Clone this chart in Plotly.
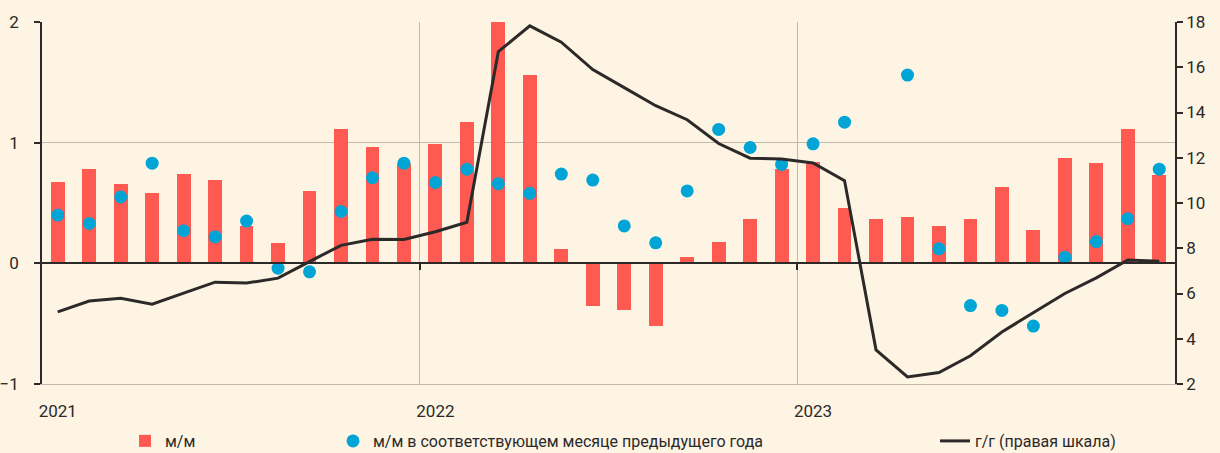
import plotly.graph_objects as go

months = [f"{y}-{m:02d}" for y in (2021, 2022, 2023) for m in range(1, 13)]

mom = [0.67, 0.78, 0.66, 0.58, 0.74, 0.69, 0.31, 0.17, 0.60, 1.11, 0.96, 0.82,
       0.99, 1.17, 7.61, 1.56, 0.12, -0.35, -0.39, -0.52, 0.05, 0.18, 0.37, 0.78,
       0.84, 0.46, 0.37, 0.38, 0.31, 0.37, 0.63, 0.28, 0.87, 0.83, 1.11, 0.73]

mom_prev_year = [0.40, 0.33, 0.55, 0.83, 0.27, 0.22, 0.35, -0.04, -0.07, 0.43, 0.71, 0.83,
                 0.67, 0.78, 0.66, 0.58, 0.74, 0.69, 0.31, 0.17, 0.60, 1.11, 0.96, 0.82,
                 0.99, 1.17, 7.61, 1.56, 0.12, -0.35, -0.39, -0.52, 0.05, 0.18, 0.37, 0.78]

yoy = [5.19, 5.67, 5.79, 5.53, 6.02, 6.50, 6.46, 6.68, 7.41, 8.13, 8.40, 8.39,
       8.73, 9.15, 16.69, 17.83, 17.11, 15.90, 15.10, 14.30, 13.68, 12.63, 11.98, 11.94,
       11.77, 10.99, 3.51, 2.31, 2.51, 3.25, 4.30, 5.15, 6.00, 6.69, 7.48, 7.42]

year_labels = ["2021", "2022", "2023"]
legend_names = ["м/м", "м/м в соответствующем месяце предыдущего года", "г/г (правая шкала)"]

pos = list(range(len(months)))
year_pos = [pos[months.index(f"{y}-01")] for y in year_labels]
year_bounds = [p - 0.5 for p in year_pos[1:]]

BG = "#FDF4E4"
RED = "#FF5A52"
BLUE = "#00A5D5"
DARK = "#2B2A28"
GRID = "#C2BAAE"
FONT = "Roboto, Open Sans, sans-serif"

W, H = 1220, 453

fig = go.Figure()
fig.add_trace(go.Bar(x=pos, y=mom, name=legend_names[0], marker=dict(color=RED, line=dict(width=0)),
                     width=0.44, legend="legend", hoverinfo="skip"))
fig.add_trace(go.Scatter(x=pos, y=mom_prev_year, name=legend_names[1], mode="markers",
                         marker=dict(color=BLUE, size=13), legend="legend2", cliponaxis=True))
fig.add_trace(go.Scatter(x=pos, y=yoy, name=legend_names[2], mode="lines",
                         line=dict(color=DARK, width=3), xaxis="x2", yaxis="y2", legend="legend3"))

xr = [-0.5, len(months) - 0.5]
leg_common = dict(orientation="h", xref="container", yref="container", y=1 - 441 / H,
                  yanchor="middle", xanchor="left", bgcolor="rgba(0,0,0,0)",
                  font=dict(size=16, family=FONT, color=DARK))
fig.update_layout(
    width=W, height=H,
    margin=dict(l=42, r=45, t=22, b=69, autoexpand=False),
    paper_bgcolor=BG, plot_bgcolor=BG,
    font=dict(family=FONT, size=17, color=DARK),
    bargap=0,
    xaxis=dict(range=xr, tickmode="array", tickvals=year_pos, ticktext=year_labels,
               showgrid=False, zeroline=False, showline=True, linecolor=GRID, linewidth=1,
               ticks="", ticklabelstandoff=12, automargin=False,
               minor=dict(tickmode="array", tickvals=year_bounds, showgrid=True,
                          gridcolor=GRID, gridwidth=1, ticks="")),
    xaxis2=dict(range=xr, overlaying="x", anchor="free", position=1/3, side="bottom",
                tickmode="array", tickvals=year_bounds, showticklabels=False,
                ticks="outside", ticklen=6, tickcolor=DARK, tickwidth=1.5, automargin=False,
                showline=True, linecolor=DARK, linewidth=1.5, showgrid=False, zeroline=False),
    yaxis=dict(range=[-1, 2], tickmode="array", tickvals=[-1, 0, 1, 2],
               showgrid=True, gridcolor=GRID, gridwidth=1, zeroline=False,
               showline=True, linecolor=DARK, linewidth=1.5, automargin=False,
               ticks="outside", ticklen=6, tickcolor=DARK, tickwidth=1.5, ticklabelstandoff=12),
    yaxis2=dict(range=[2, 18], tickmode="array", tickvals=list(range(2, 19, 2)),
                overlaying="y", side="right", anchor="x", automargin=False,
                showgrid=False, zeroline=False, showline=True, linecolor=DARK, linewidth=1.5,
                ticks="outside", ticklen=6, tickcolor=DARK, tickwidth=1.5),
    showlegend=True,
    legend=dict(x=125 / W, **leg_common),
    legend2=dict(x=333 / W, **leg_common),
    legend3=dict(x=935 / W, **leg_common),
)

page_css = (
    "document.body.style.margin='0';"
    "document.body.style.background='" + BG + "';"
    "document.documentElement.style.background='" + BG + "';"
)
fig.write_html("out.html", post_script=page_css, config={"displayModeBar": False})
